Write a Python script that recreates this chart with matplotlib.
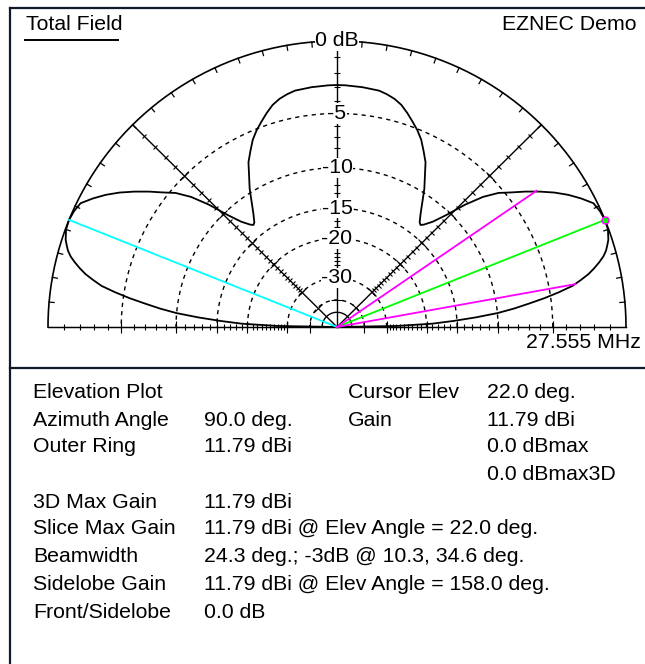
import numpy as np
import matplotlib
matplotlib.use('Agg')
import matplotlib.pyplot as plt
from matplotlib.lines import Line2D
from matplotlib.markers import MarkerStyle
from matplotlib.transforms import Affine2D

plt.rcParams['font.family'] = ['Liberation Sans', 'DejaVu Sans']

# total field elevation pattern (dB below outer ring)
elev_deg = [0, 1, 2, 3, 4, 5, 6, 7, 8, 9, 10, 11, 12, 13, 14, 15, 16, 17, 18,
            20, 22, 24, 26, 28, 30, 32, 34, 36, 38, 40, 42, 44, 46, 48, 50,
            51, 52, 54, 56, 58, 60, 62, 64, 66, 68, 70, 72, 74, 76, 78, 80,
            84, 88, 90, 92, 96, 100, 102, 104, 106, 108, 110, 112, 114, 116,
            118, 120, 122, 124, 126, 128, 129, 130, 132, 134, 136, 138, 140,
            142, 144, 146, 148, 150, 152, 154, 156, 158, 160, 162, 163, 164,
            165, 166, 167, 168, 169, 170, 171, 172, 173, 174, 175, 176, 177,
            178, 179, 180]
gain_db = [-99, -27, -19, -15.5, -12.5, -10, -8.3, -6.9, -5.5, -4.3, -3.25,
           -2.6, -2.0, -1.55, -1.15, -0.8, -0.55, -0.38, -0.22,
           -0.04, 0.0, -0.07, -0.22, -0.75, -1.35, -2.05, -2.85, -3.7, -4.6,
           -5.4, -6.6, -8.3, -10.4, -12.0, -13.0,
           -13.3, -13.1, -12.1, -10.9, -9.6, -8.5, -7.3, -6.5, -5.7, -5.1,
           -4.6, -4.1, -3.65, -3.35, -3.15, -3.0,
           -2.92, -2.87, -2.86, -2.87, -2.92, -3.0, -3.15, -3.35, -3.65, -4.1,
           -4.6, -5.1, -5.7, -6.5,
           -7.3, -8.5, -9.6, -10.9, -12.1, -13.1, -13.3, -13.0, -12.0, -10.4,
           -8.3, -6.6, -5.4,
           -4.6, -3.7, -2.85, -2.05, -1.35, -0.75, -0.22, -0.07, 0.0, -0.04,
           -0.22, -0.38, -0.55,
           -0.8, -1.15, -1.55, -2.0, -2.6, -3.25, -4.3, -5.5, -6.9, -8.3, -10,
           -12.5, -15.5, -19, -27, -99]

ring_levels = [-5, -10, -15, -20, -30, -40]
ring_labels = ['-5', '-10', '-15', '-20', '-30']
inner_level = -50

cursor_elev = 22.0
cursor_gain = 0.0
sidelobe_elev = 158.0
sidelobe_gain = 0.0
bw_edges = [10.3, 34.6]
bw_level = -3.0

info_left = [('Elevation Plot', ''), ('Azimuth Angle', '90.0 deg.'),
             ('Outer Ring', '11.79 dBi'), ('', ''),
             ('3D Max Gain', '11.79 dBi'),
             ('Slice Max Gain', '11.79 dBi @ Elev Angle = 22.0 deg.'),
             ('Beamwidth', '24.3 deg.; -3dB @ 10.3, 34.6 deg.'),
             ('Sidelobe Gain', '11.79 dBi @ Elev Angle = 158.0 deg.'),
             ('Front/Sidelobe', '0.0 dB')]
info_right = [('Cursor Elev', '22.0 deg.'), ('Gain', '11.79 dBi'),
              ('', '0.0 dBmax'), ('', '0.0 dBmax3D')]

W, H = 645, 664
fig = plt.figure(figsize=(W / 100, H / 100), dpi=100)


def fx(x):
    return x / W


def fy(y):
    return 1 - y / H


# ARRL style log scale: 0.89 per 2 dB
def to_ring(db):
    return 0.89 ** (-np.asarray(db, dtype=float) / 2)


def from_ring(r):
    r = np.clip(np.asarray(r, dtype=float), 1e-12, None)
    return -2 * np.log(r) / np.log(0.89)


cx, cy = 337, 327
rx, ry = 289, 286
ax = fig.add_axes([fx(cx - rx), (H - cy - ry / 2) / H, 2 * rx / W, 2 * ry / H],
                  projection='polar')
ax.set_yscale('function', functions=(to_ring, from_ring))
ax.set_thetalim(0, np.pi)
ax.set_ylim(-100, 0)
ax.set_xticks([])
ax.set_yticks([])
ax.grid(False)
for s in ax.spines.values():
    s.set_visible(False)
ax.patch.set_visible(False)

th = np.linspace(0, np.pi, 400)
lw = 1.0

# dashed rings and solid outer ring
for lev in ring_levels:
    ax.plot(th, np.full_like(th, lev), color='k', lw=lw, ls=(0, (3, 3)),
            clip_on=False, zorder=2)
ax.plot(th, np.full_like(th, inner_level), color='k', lw=lw, clip_on=False)
ax.plot(th, np.zeros_like(th), color='k', lw=1.2, clip_on=False, zorder=3)

# radial axes with dB ticks
tick_db = np.arange(-1, -31, -1)
for a in [0, 45, 90, 135, 180]:
    t = np.radians(a)
    ax.plot([t, t], [-100, 0], color='k', lw=lw, clip_on=False, zorder=2)
    mk = MarkerStyle('_', transform=Affine2D().rotate_deg(a + 90))
    ax.plot(np.full(len(tick_db), t), tick_db, ls='none', marker=mk, ms=4,
            mec='k', mew=0.8, clip_on=False, zorder=2)
    ax.plot(np.full(len(ring_levels), t), ring_levels, ls='none', marker=mk,
            ms=8, mec='k', mew=0.8, clip_on=False, zorder=2)

# ticks on outer ring every 5 degrees
for a in range(5, 180, 5):
    t = np.radians(a)
    ax.plot([t, t], [0, -0.3], color='k', lw=0.9, clip_on=False, zorder=3)

# pattern
ax.plot(np.radians(elev_deg), gain_db, color='k', lw=1.3, clip_on=False,
        zorder=4)

# cursor, sidelobe and beamwidth lines
ax.plot([np.radians(sidelobe_elev)] * 2, [-100, sidelobe_gain],
        color='#00ffff', lw=1.3, clip_on=False, zorder=5)
ax.plot([np.radians(cursor_elev)] * 2, [-100, cursor_gain],
        color='#00ff00', lw=1.3, clip_on=False, zorder=5)
for e in bw_edges:
    ax.plot([np.radians(e)] * 2, [-100, bw_level], color='#ff00ff', lw=1.3,
            clip_on=False, zorder=5)
ax.plot(np.radians(cursor_elev), cursor_gain, marker='o', ms=5,
        mfc='#00ff00', mec='#ff00ff', mew=1, clip_on=False, zorder=6)

fs = 15.3
box = dict(fc='white', ec='none', pad=0.5)
ax.text(np.pi / 2, 0, '0 dB', ha='center', va='center', fontsize=fs,
        bbox=box, zorder=7)
for lev, lab in zip(ring_levels, ring_labels):
    ax.text(np.pi / 2, lev, lab, ha='center', va='center', fontsize=fs,
            bbox=box, zorder=7)

# header texts
fig.text(fx(26), fy(25), 'Total Field', fontsize=fs, ha='left', va='center')
fig.add_artist(Line2D([fx(25), fx(118)], [fy(40), fy(40)], color='k', lw=1.4))
fig.text(fx(636), fy(25), 'EZNEC Demo', fontsize=fs, ha='right', va='center')
fig.text(fx(641), fy(343), '27.555 MHz', fontsize=fs, ha='right', va='center')

# frame
frame = '#111a2a'
fig.add_artist(Line2D([fx(10), fx(645)], [fy(8), fy(8)], color=frame, lw=1.6))
fig.add_artist(Line2D([fx(10), fx(10)], [fy(8), fy(664)], color=frame, lw=1.6))
fig.add_artist(Line2D([fx(10), fx(645)], [fy(368), fy(368)], color=frame,
                      lw=1.6))

# info table
rows_y = [393, 420, 447, 474, 502, 529, 557, 585, 612]
for (lab, val), y in zip(info_left, rows_y):
    fig.text(fx(33), fy(y), lab, fontsize=fs, ha='left', va='center')
    fig.text(fx(204), fy(y), val, fontsize=fs, ha='left', va='center')
for (lab, val), y in zip(info_right, rows_y):
    fig.text(fx(348), fy(y), lab, fontsize=fs, ha='left', va='center')
    fig.text(fx(487), fy(y), val, fontsize=fs, ha='left', va='center')

ax.set_aspect('auto')
fig.savefig('out.png', dpi=100)
